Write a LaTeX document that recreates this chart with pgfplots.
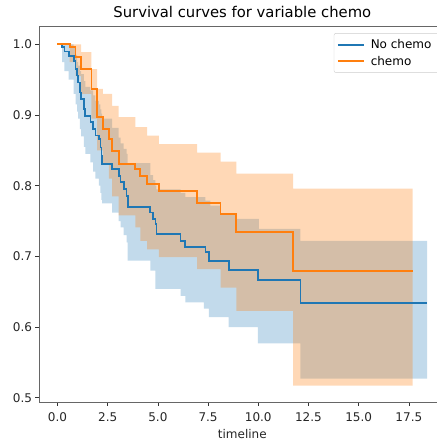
\documentclass[border=0pt]{standalone}
\usepackage{fontspec}
\setmainfont{DejaVu Sans}
\usepackage{pgfplots}
\pgfplotsset{compat=1.18}
\usepgfplotslibrary{fillbetween}
\definecolor{tabblue}{HTML}{1F77B4}
\definecolor{taborange}{HTML}{FF7F0E}

\begin{document}
\begin{tikzpicture}
\begin{axis}[
  name=ax,
  scale only axis,
  width=406.6pt, height=376pt,
  xmin=-0.92, xmax=19.33,
  ymin=0.494, ymax=1.026,
  xtick={0,2.5,5,7.5,10,12.5,15,17.5},
  ytick={0.5,0.6,0.7,0.8,0.9,1.0},
  xtick pos=bottom, ytick pos=left,
  tick align=outside,
  major tick length=3.5pt,
  every tick/.style={black!80, line width=0.6pt},
  axis line style={black!60, line width=0.7pt},
  /pgf/number format/assume math mode=true,
  ticklabel style={font=\fontsize{12}{14}\selectfont, text=black!85},
  xticklabel style={yshift=-3.5pt, /pgf/number format/.cd, fixed, fixed zerofill, precision=1},
  yticklabel style={/pgf/number format/.cd, fixed, fixed zerofill, precision=1},
  title={Survival curves for variable chemo},
  title style={font=\fontsize{14.8}{16}\selectfont, yshift=-1.5pt},
  xlabel={timeline},
  xlabel style={font=\fontsize{12}{14}\selectfont, text=black!85, yshift=-1pt},
  legend style={at={(0.988,0.981)}, anchor=north east, draw=black!20,
    rounded corners=2pt, fill=white, fill opacity=0.8, text opacity=1,
    font=\fontsize{12}{14}\selectfont, cells={anchor=west},
    inner xsep=3pt, inner ysep=4pt, row sep=2pt,
    nodes={inner xsep=6pt, inner ysep=2pt}},
  legend image code/.code={\draw[#1] (0pt,0pt) -- (26pt,0pt);},
  fill between/on layer=main,
]
% confidence band, no chemo
\addplot[draw=none, const plot, name path=bu, forget plot] coordinates {
  (0,1.0) (0.81,0.995) (0.90,0.985) (0.98,0.975) (1.03,0.970) (1.11,0.962)
  (1.18,0.958) (1.31,0.948) (1.39,0.940) (1.64,0.935) (1.78,0.928) (1.89,0.920)
  (2.06,0.915) (2.14,0.908) (2.19,0.902) (2.22,0.895) (2.72,0.882) (3.05,0.868)
  (3.14,0.860) (3.30,0.852) (3.44,0.845) (3.50,0.832) (4.63,0.815) (4.76,0.808)
  (4.88,0.800) (4.93,0.795) (6.13,0.790) (6.37,0.784) (7.37,0.779) (7.62,0.772)
  (8.12,0.760) (8.86,0.753) (10.03,0.739) (12.10,0.722) (18.41,0.722)
};
\addplot[draw=none, const plot, name path=bl, forget plot] coordinates {
  (0,1.0) (0.23,0.975) (0.35,0.962) (0.56,0.950) (0.81,0.930) (0.90,0.915)
  (0.98,0.905) (1.03,0.895) (1.11,0.880) (1.18,0.870) (1.31,0.855) (1.39,0.845)
  (1.64,0.833) (1.78,0.820) (1.89,0.810) (2.06,0.800) (2.14,0.790) (2.19,0.780)
  (2.22,0.775) (2.72,0.762) (3.05,0.750) (3.14,0.741) (3.30,0.730) (3.44,0.720)
  (3.50,0.694) (4.63,0.680) (4.88,0.654) (6.13,0.644) (6.37,0.635) (7.29,0.626)
  (7.54,0.614) (8.53,0.600) (9.98,0.577) (12.10,0.527) (18.41,0.527)
};
\addplot[fill=tabblue, fill opacity=0.27, draw=none, forget plot] fill between[of=bu and bl];
% confidence band, chemo
\addplot[draw=none, const plot, name path=ou, forget plot] coordinates {
  (0,1.0) (1.18,0.989) (1.69,0.965) (1.98,0.937) (2.26,0.930) (2.72,0.913)
  (3.05,0.897) (3.88,0.883) (4.47,0.871) (5.05,0.859) (6.96,0.847) (8.12,0.834)
  (8.91,0.817) (11.74,0.796) (17.69,0.796)
};
\addplot[draw=none, const plot, name path=ol, forget plot] coordinates {
  (0,1.0) (0.61,0.975) (0.90,0.955) (1.18,0.930) (1.69,0.895) (1.98,0.850)
  (2.26,0.830) (2.56,0.810) (2.72,0.785) (3.05,0.758) (3.88,0.741) (4.13,0.722)
  (4.47,0.710) (5.05,0.699) (6.96,0.682) (8.12,0.656) (8.91,0.623) (11.74,0.517)
  (17.69,0.517)
};
\addplot[fill=taborange, fill opacity=0.3, draw=none, forget plot] fill between[of=ou and ol];
% survival curves
\addplot[draw=tabblue, line width=1.8pt, const plot] coordinates {
  (0,1.0) (0.23,0.996) (0.35,0.990) (0.56,0.984) (0.81,0.977) (0.90,0.965)
  (0.98,0.956) (1.03,0.946) (1.11,0.932) (1.18,0.923) (1.31,0.908) (1.39,0.899)
  (1.64,0.890) (1.78,0.880) (1.89,0.871) (2.06,0.866) (2.14,0.854) (2.19,0.842)
  (2.22,0.831) (2.72,0.824) (3.05,0.814) (3.14,0.805) (3.30,0.795) (3.44,0.786)
  (3.50,0.770) (4.60,0.762) (4.76,0.753) (4.88,0.746) (4.93,0.732) (6.13,0.722)
  (6.37,0.713) (7.37,0.706) (7.54,0.694) (8.53,0.681) (9.98,0.667) (12.10,0.634)
  (18.38,0.634)
};
\addlegendentry{No chemo}
\addplot[draw=taborange, line width=1.8pt, const plot] coordinates {
  (0,1.0) (0.61,0.996) (0.90,0.982) (1.18,0.965) (1.69,0.937) (1.98,0.897)
  (2.26,0.880) (2.56,0.866) (2.72,0.849) (3.05,0.831) (3.88,0.824) (4.13,0.814)
  (4.47,0.802) (5.05,0.792) (6.96,0.776) (8.12,0.760) (8.91,0.735) (11.74,0.679)
  (17.69,0.679)
};
\addlegendentry{chemo}
\end{axis}
\pgfresetboundingbox
\path ([shift={(-39pt,-39pt)}]ax.south west) rectangle ([shift={(398pt,26pt)}]ax.north west);
\end{tikzpicture}
\end{document}
